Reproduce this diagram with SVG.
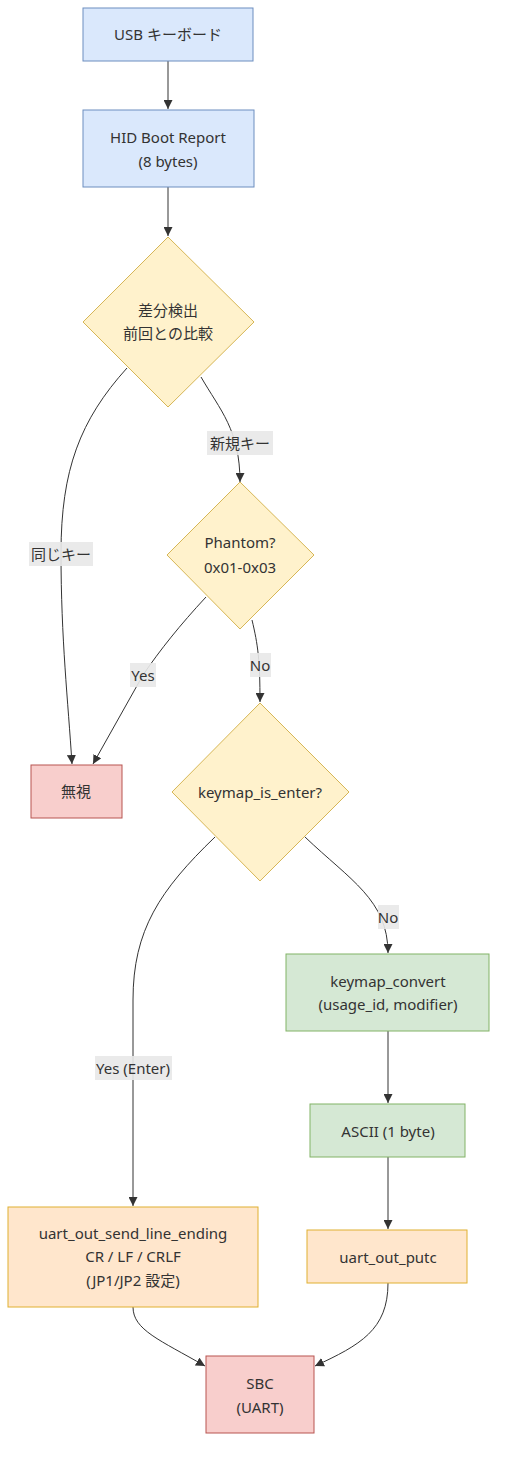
<svg xmlns="http://www.w3.org/2000/svg" width="505" height="1462" viewBox="0 0 505 1462">
<defs>
<marker id="arr" viewBox="0 0 10 10" refX="10" refY="5" markerWidth="9" markerHeight="9" markerUnits="userSpaceOnUse" orient="auto">
<path d="M0,0 L10,5 L0,10 z" fill="#333"/>
</marker>
<style>
text{font-family:"Noto Sans","DejaVu Sans","Noto Sans CJK JP",sans-serif;font-size:15px;fill:#333;text-anchor:middle;dominant-baseline:central}
.blue{fill:#dae8fc;stroke:#6c8ebf;stroke-width:1}
.yel{fill:#fff2cc;stroke:#d6b656;stroke-width:1}
.red{fill:#f8cecc;stroke:#b85450;stroke-width:1}
.grn{fill:#d5e8d4;stroke:#82b366;stroke-width:1}
.org{fill:#ffe6cc;stroke:#e0b030;stroke-width:1}
.edge{fill:none;stroke:#333;stroke-width:1;marker-end:url(#arr)}
.lbl{fill:#e8e8e8;opacity:0.9}
</style>
</defs>
<rect width="505" height="1462" fill="#fff"/>
<g id="connectors">
<path class="edge" d="M168,61 L168,109"/>
<path class="edge" d="M168,187 L168,236"/>
<path class="edge" d="M127,368 C80,420 61,470 61,553 C61,640 68,700 72,764"/>
<path class="edge" d="M201,377 C220,410 240,430 240,482"/>
<path class="edge" d="M206,597 C180,625 160,650 143,675 L93,764"/>
<path class="edge" d="M252,620 C258,645 260,660 260,702"/>
<path class="edge" d="M305,837 C350,880 388,900 388,953"/>
<path class="edge" d="M215,837 C160,890 133,930 133,1000 L133,1206"/>
<path class="edge" d="M388,1031 L388,1103"/>
<path class="edge" d="M388,1157 L388,1229"/>
<path class="edge" d="M133,1307 C133,1330 160,1340 205,1366"/>
<path class="edge" d="M388,1283 C388,1330 360,1345 315,1366"/>
<g id="edge-labels">
<rect class="lbl" x="29" y="542" width="64" height="24"/>
<text x="61" y="554">同じキー</text>
<rect class="lbl" x="207" y="431" width="66" height="24"/>
<text x="240" y="443">新規キー</text>
<rect class="lbl" x="130" y="663" width="26" height="24"/>
<text x="143" y="675">Yes</text>
<rect class="lbl" x="250" y="653" width="21" height="24"/>
<text x="260" y="665">No</text>
<rect class="lbl" x="378" y="905" width="21" height="24"/>
<text x="388" y="917">No</text>
<rect class="lbl" x="95" y="1056" width="77" height="24"/>
<text x="133" y="1068">Yes (Enter)</text>
</g>
</g>
<g id="usb"><rect class="blue" x="83" y="8" width="170" height="53"/><text x="168" y="34">USB キーボード</text></g>
<g id="hid"><rect class="blue" x="83" y="110" width="171" height="77"/><text x="168" y="137">HID Boot Report</text><text x="168" y="161">(8 bytes)</text></g>
<g id="diff"><polygon class="yel" points="168,237 254,322 168,407 83,322"/><text x="168" y="310">差分検出</text><text x="168" y="333">前回との比較</text></g>
<g id="phantom"><polygon class="yel" points="240,482 314,555 240,629 167,555"/><text x="240" y="542">Phantom?</text><text x="240" y="567">0x01-0x03</text></g>
<g id="ignore"><rect class="red" x="31" y="765" width="91" height="53"/><text x="76" y="791">無視</text></g>
<g id="isenter"><polygon class="yel" points="260,703 349,792 260,881 172,792"/><text x="260" y="792">keymap_is_enter?</text></g>
<g id="convert"><rect class="grn" x="286" y="954" width="203" height="77"/><text x="388" y="981">keymap_convert</text><text x="388" y="1004">(usage_id, modifier)</text></g>
<g id="ascii"><rect class="grn" x="310" y="1104" width="155" height="53"/><text x="388" y="1131">ASCII (1 byte)</text></g>
<g id="putc"><rect class="org" x="307" y="1230" width="160" height="53"/><text x="388" y="1257">uart_out_putc</text></g>
<g id="lineend"><rect class="org" x="8" y="1207" width="250" height="100"/><text x="133" y="1233">uart_out_send_line_ending</text><text x="133" y="1256">CR / LF / CRLF</text><text x="133" y="1280">(JP1/JP2 設定)</text></g>
<g id="sbc"><rect class="red" x="206" y="1356" width="108" height="77"/><text x="260" y="1383">SBC</text><text x="260" y="1407">(UART)</text></g>
</svg>
